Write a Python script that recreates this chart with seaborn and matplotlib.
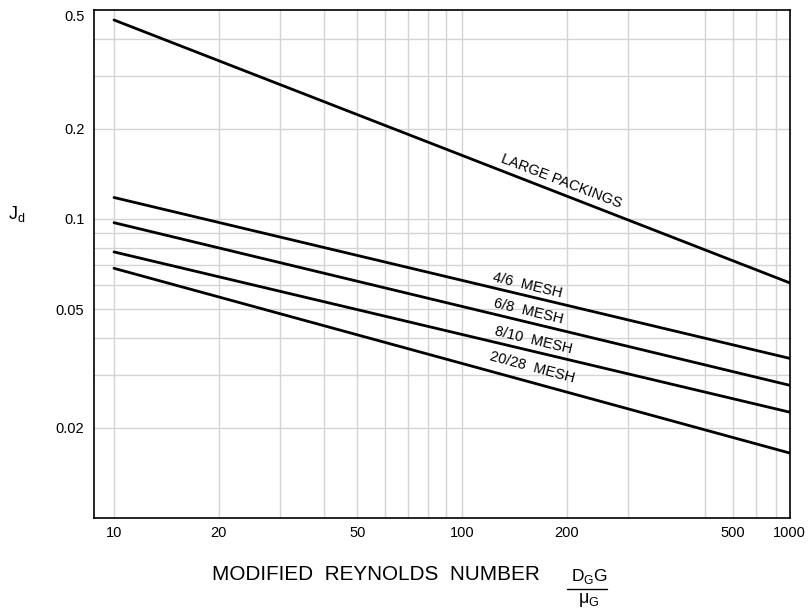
import pandas as pd
import numpy as np
import matplotlib.pyplot as plt
import seaborn as sns
from matplotlib.ticker import FixedLocator, NullFormatter
from matplotlib.lines import Line2D

# the source figure's grid puts its right edge near Re = 870, but the edge is labelled "1000"
re_left = 10
re_edge = 873

curve_names = ["LARGE PACKINGS", "4/6  MESH", "6/8  MESH", "8/10  MESH", "20/28  MESH"]
jd_left = [0.463, 0.118, 0.0972, 0.0776, 0.0684]
jd_right = [0.0612, 0.0342, 0.0278, 0.0226, 0.0165]

x_tick_pos = [10, 20, 50, 100, 200, 600, re_edge]
x_tick_labels = ["10", "20", "50", "100", "200", "500", "1000"]
x_grid = [10, 20, 30, 40, 50, 60, 70, 80, 90, 100, 200, 300, 500, 600, 700, 800]

y_tick_pos = [0.02, 0.05, 0.1, 0.2, 0.5]
y_tick_labels = ["0.02", "0.05", "0.1", "0.2", "0.5"]
y_grid = [0.02, 0.03, 0.04, 0.05, 0.06, 0.07, 0.08, 0.09, 0.1, 0.2, 0.3, 0.4]

# where each curve's name sits (Re, Jd) and its slant
label_re = [193, 154, 155, 160, 159]
label_jd = [0.134, 0.0601, 0.0489, 0.0394, 0.0318]
label_rot = [-21, -13.5, -13.5, -13.5, -15]

rows = []
for name, a, b in zip(curve_names, jd_left, jd_right):
    rows.append({"series": name, "re": re_left, "jd": a})
    rows.append({"series": name, "re": re_edge, "jd": b})
df = pd.DataFrame(rows)

sns.set_style("white")
plt.rcParams['font.family'] = ['Liberation Sans', 'DejaVu Sans']
plt.rcParams['mathtext.fontset'] = 'custom'
plt.rcParams['mathtext.rm'] = 'Liberation Sans'
plt.rcParams['text.color'] = 'black'
plt.rcParams['xtick.color'] = 'black'
plt.rcParams['ytick.color'] = 'black'

fig = plt.figure(figsize=(8.1, 6.1), dpi=100)
ax = fig.add_axes([94/810, 1 - 518/610, (789.5 - 94)/810, (518 - 10)/610])

sns.lineplot(data=df, x="re", y="jd", hue="series", palette=["black"]*5,
             legend=False, linewidth=2.0, ax=ax, zorder=3)

ax.set_xscale("log")
ax.set_yscale("log")
ax.set_xlim(8.76, re_edge)
ax.set_ylim(0.01, 0.5)

# grid from minor locators (kept even where a label sits), labels from major locators
ax.xaxis.remove_overlapping_locs = False
ax.yaxis.remove_overlapping_locs = False
ax.xaxis.set_minor_locator(FixedLocator(x_grid))
ax.yaxis.set_minor_locator(FixedLocator(y_grid))
ax.xaxis.set_minor_formatter(NullFormatter())
ax.yaxis.set_minor_formatter(NullFormatter())
ax.set_xticks(x_tick_pos)
ax.set_xticklabels(x_tick_labels)
ax.set_yticks(y_tick_pos)
ax.set_yticklabels(y_tick_labels)
ax.grid(False, which="major")
ax.grid(True, which="minor", color="#d4d4d4", linewidth=1.0)
ax.set_axisbelow(True)
ax.tick_params(which="both", length=0)
ax.tick_params(axis="x", pad=6, labelsize=10.5, labelcolor="black")
ax.tick_params(axis="y", pad=7, labelsize=10.5, labelcolor="black")
ax.get_yticklabels()[-1].set_va("top")
ax.set_xlabel("")
ax.set_ylabel("")

for s in ax.spines.values():
    s.set_color("black")
    s.set_linewidth(1.2)

for name, lx, ly, r in zip(curve_names, label_re, label_jd, label_rot):
    ax.text(lx, ly, name, rotation=r, ha="center", va="center",
            rotation_mode="anchor", fontsize=10.5, color="black")

# axis titles
fig.text(8/810, 1 - 219/610, r"J$_\mathregular{d}$", fontsize=13, ha="left", va="baseline")
fig.text(212/810, 1 - 580.5/610, "MODIFIED  REYNOLDS  NUMBER",
         fontsize=14.9, ha="left", va="baseline")
fig.text(571/810, 1 - 580.5/610, r"D$_\mathregular{G}$G",
         fontsize=12.5, ha="left", va="baseline")
fig.add_artist(Line2D([567/810, 607/810], [1 - 589/610, 1 - 589/610], color="black", lw=1.0))
fig.text(589/810, 1 - 603/610, r"μ$_\mathregular{G}$", fontsize=13, ha="center", va="baseline")

plt.savefig("out.png", dpi=100)
